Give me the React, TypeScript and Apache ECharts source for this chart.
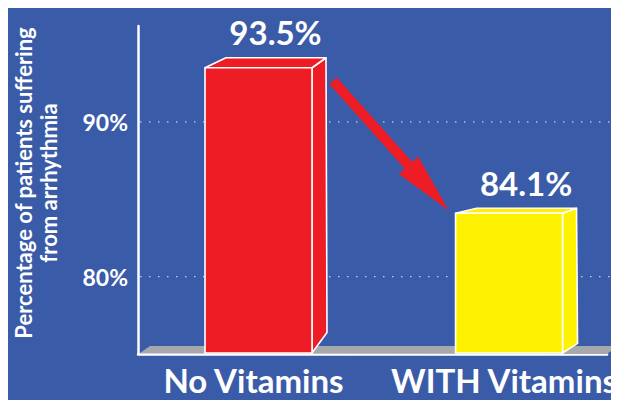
import React, { useEffect, useRef } from "react";
import * as echarts from "echarts";

const CATEGORIES = ["No Vitamins", "WITH Vitamins"];
const VALUES = [93.5, 84.1];
const GRID_VALUES = [80, 90];
const Y_MIN = 75;
const Y_MAX = 96.2;
const Y_TITLE = "Percentage of patients suffering\nfrom arrhythmia";

const BAR_COLORS = ["#ee1c25", "#fff200"];
const BG = "#3a5ba8";
const FONT = "Lato, 'Noto Sans', sans-serif";

export default function App() {
  const ref = useRef<HTMLDivElement>(null);

  useEffect(() => {
    if (!ref.current) return;
    const chart = echarts.init(ref.current, null, { renderer: "svg" });
    const BAR_W = 0.427;

    const renderItem = (params: any, api: any) => {
      const i = api.value(0);
      const v = api.value(1);
      const cs = params.coordSys;
      const children: any[] = [];
      const [cx, ty] = api.coord([i, v]);
      const [, by] = api.coord([i, Y_MIN]);
      const w = api.size([BAR_W, 0])[0];
      const x0 = cx - w / 2;
      const x1 = cx + w / 2;
      const h = by - ty;
      const dTop = h * 0.035;
      const dBot = h * 0.075;
      const fill = BAR_COLORS[params.dataIndex % BAR_COLORS.length];
      const edge = { stroke: "#ffffff", lineWidth: 1.6, lineJoin: "round" };

      if (params.dataIndex === 0) {
        // dotted gridlines
        GRID_VALUES.forEach((g) => {
          const [, gy] = api.coord([0, g]);
          children.push({
            type: "line",
            shape: { x1: cs.x + 2, y1: gy, x2: cs.x + cs.width + 8, y2: gy },
            style: { stroke: "#c3cbe2", lineWidth: 1.3, lineDash: [1.5, 7.5] },
          });
        });
        // floor
        const gb = cs.y + cs.height;
        children.push({
          type: "polygon",
          shape: {
            points: [
              [cs.x + 2, gb - 1],
              [cs.x + 12, gb - 8],
              [cs.x + cs.width + 11, gb - 8],
              [cs.x + cs.width, gb],
            ],
          },
          style: { fill: "#a6a8ab" },
        });
      }

      // side face
      children.push({
        type: "polygon",
        shape: {
          points: [
            [x1, ty],
            [x1 + 14, ty - dTop],
            [x1 + 15, by - dBot],
            [x1, by - 1],
          ],
        },
        style: { fill, ...edge },
      });
      // top face
      children.push({
        type: "polygon",
        shape: {
          points: [
            [x0, ty],
            [x0 + 21, ty - dTop],
            [x1 + 14, ty - dTop],
            [x1, ty],
          ],
        },
        style: { fill, ...edge },
      });
      // front face
      children.push({
        type: "rect",
        shape: { x: x0, y: ty, width: w, height: by - ty - 1 },
        style: { fill, ...edge },
      });
      // value label
      children.push({
        type: "text",
        x: cx + 17,
        y: ty - dTop - 9,
        style: {
          text: v.toFixed(1) + "%",
          fill: "#ffffff",
          font: `bold 33px ${FONT}`,
          align: "center",
          verticalAlign: "bottom",
        },
      });

      if (params.dataIndex === 1) {
        // arrow from the first bar to this one
        const [pcx, pty] = api.coord([0, VALUES[0]]);
        const sx = pcx + w / 2 + 21;
        const sy = pty + 13;
        const tx = x0 - 7;
        const tyy = ty - 3;
        const dx = tx - sx;
        const dy = tyy - sy;
        const len = Math.sqrt(dx * dx + dy * dy);
        const ux = dx / len;
        const uy = dy / len;
        const nx = -uy;
        const ny = ux;
        const headLen = 60;
        const hw = 5;
        const HW = 13;
        const bx = tx - ux * headLen;
        const byy = tyy - uy * headLen;
        children.push({
          type: "polygon",
          shape: {
            points: [
              [sx + nx * hw, sy + ny * hw],
              [bx + nx * hw, byy + ny * hw],
              [bx + nx * HW, byy + ny * HW],
              [tx, tyy],
              [bx - nx * HW, byy - ny * HW],
              [bx - nx * hw, byy - ny * hw],
              [sx - nx * hw, sy - ny * hw],
            ],
          },
          style: { fill: "#ee1c25" },
        });
      }

      return { type: "group", children };
    };

    chart.setOption({
      animation: false,
      backgroundColor: BG,
      grid: { left: 130, top: 18, width: 469, bottom: 46, outerBoundsMode: "none", containLabel: false },
      xAxis: {
        type: "value",
        min: -0.481,
        max: 1.391,
        axisLine: { show: true, onZero: false, lineStyle: { color: "#ffffff", width: 2.5 } },
        axisTick: { show: false },
        splitLine: { show: false },
        axisLabel: {
          customValues: [0, 1],
          formatter: (val: number) => CATEGORIES[Math.round(val)] ?? "",
          color: "#ffffff",
          fontFamily: FONT,
          fontWeight: "bold",
          fontSize: 33,
          lineHeight: 32,
          padding: [0, 10, 0, 0],
          margin: 10,
        },
      },
      yAxis: {
        type: "value",
        min: Y_MIN,
        max: Y_MAX,
        interval: 5,
        axisLine: { show: true, onZero: false, lineStyle: { color: "#ffffff", width: 2.5 } },
        axisTick: { show: false },
        splitLine: { show: false },
        axisLabel: {
          customValues: GRID_VALUES,
          formatter: (val: number) => `${val}%`,
          color: "#ffffff",
          fontFamily: FONT,
          fontWeight: "bold",
          fontSize: 23,
          margin: 10,
        },
      },
      graphic: [
        {
          type: "text",
          x: 28,
          y: 175,
          rotation: Math.PI / 2,
          style: {
            text: Y_TITLE,
            fill: "#ffffff",
            font: `bold 22px ${FONT}`,
            align: "center",
            verticalAlign: "middle",
            lineHeight: 25,
          },
        },
      ],
      series: [
        {
          type: "custom",
          renderItem,
          clip: false,
          data: VALUES.map((v, i) => [i, v]),
        },
      ],
    });

    return () => chart.dispose();
  }, []);

  return <div ref={ref} style={{ width: 611, height: 392 }} />;
}
